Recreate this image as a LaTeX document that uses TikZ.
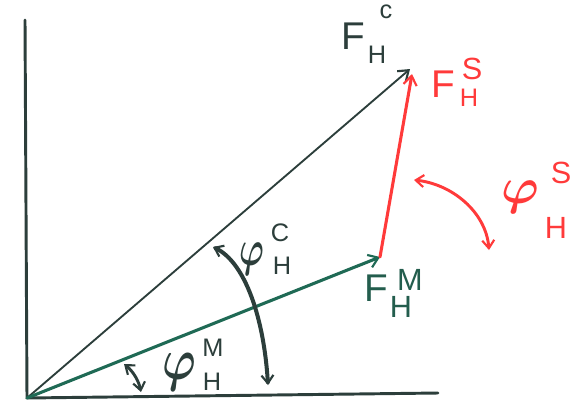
\documentclass[tikz,border=0pt]{standalone}
\usepackage{fontspec}
\usepackage{graphicx}
\usepackage{bm}
\setmainfont{Liberation Sans}
\usetikzlibrary{arrows.meta}
\definecolor{ink}{HTML}{2C3E3B}
\definecolor{grn}{HTML}{1F6A55}
\definecolor{rd}{HTML}{FF3A3A}
\tikzset{
  tip/.style={-{Straight Barb[length=7pt,width=10pt,line width=1.6pt]}},
  dtip/.style={{Straight Barb[length=6pt,width=9pt,line width=1.6pt]}-{Straight Barb[length=6pt,width=9pt,line width=1.6pt]}},
  big/.style={inner sep=0pt, font=\fontsize{29}{29}\selectfont},
  mid/.style={inner sep=0pt, font=\fontsize{23}{23}\selectfont},
  sml/.style={inner sep=0pt, font=\fontsize{19}{19}\selectfont},
  phi/.style={inner sep=0pt},
}
\begin{document}
\begin{tikzpicture}[x=0.75pt,y=-0.75pt,line cap=round,line join=round]
\useasboundingbox (0,0) rectangle (578,405);
\fill[white] (0,0) rectangle (578,405);
% axes
\coordinate (top) at (25,20);
\coordinate (O) at (27,398);
\coordinate (xend) at (438,393);
\draw[ink,line width=2.2pt] (top) -- (O) -- (xend);
% vectors
\coordinate (C) at (410,69);
\coordinate (M) at (380,257);
\coordinate (S) at (412,74);
\draw[ink,line width=1.4pt,tip] (O) -- (C);
\draw[grn,line width=2.3pt,tip] (O) -- (M);
\draw[rd,line width=2.3pt,tip] (M) -- (S);
% angle arcs
\coordinate (ac1) at (213,247);
\coordinate (ac2) at (268,385);
\draw[ink,line width=3pt,dtip] (ac1) .. controls (245,262) and (264,318) .. (ac2);
\coordinate (as1) at (414,180);
\coordinate (as2) at (489,250);
\draw[rd,line width=2.2pt,dtip] (as1) .. controls (452,184) and (486,212) .. (as2);
\coordinate (am1) at (124,364);
\coordinate (am2) at (141,392);
\draw[ink,line width=2.2pt,dtip] (am1) .. controls (134,372) and (139,382) .. (am2);
% labels F_H^C
\node[big,ink] (fc) at (353,36) {F};
\node[sml,ink] (fch) at (377,55) {H};
\node[sml,ink] (fcc) at (386,12) {c};
% F_H^S
\node[big,rd] (fs) at (443,84) {F};
\node[mid,rd] (fss) at (472,69) {S};
\node[sml,rd] (fsh) at (469,98) {H};
% F_H^M
\node[big,grn!70!ink] (fm) at (376,288) {F};
\node[mid,grn!70!ink] (fmm) at (410,280) {M};
\node[mid,grn!70!ink] (fmh) at (401,307) {H};
% phi_H^S
\node[phi,rd] (ps) at (520,197) {\scalebox{3.8}[3.8]{$\bm{\varphi}$}};
\node[mid,rd] (pss) at (561,173) {S};
\node[mid,rd] (psh) at (556,228) {H};
% phi_H^C
\node[phi,ink] (pc) at (252,259) {\scalebox{2.5}[3.8]{$\bm{\varphi}$}};
\node[sml,ink] (pcc) at (280,233) {C};
\node[sml,ink] (pch) at (282,266) {H};
% phi_H^M
\node[phi,ink] (pm) at (179,372) {\scalebox{3.4}[4.4]{$\bm{\varphi}$}};
\node[sml,ink] (pmm) at (213,348) {M};
\node[sml,ink] (pmh) at (212,382) {H};
\end{tikzpicture}
\end{document}
